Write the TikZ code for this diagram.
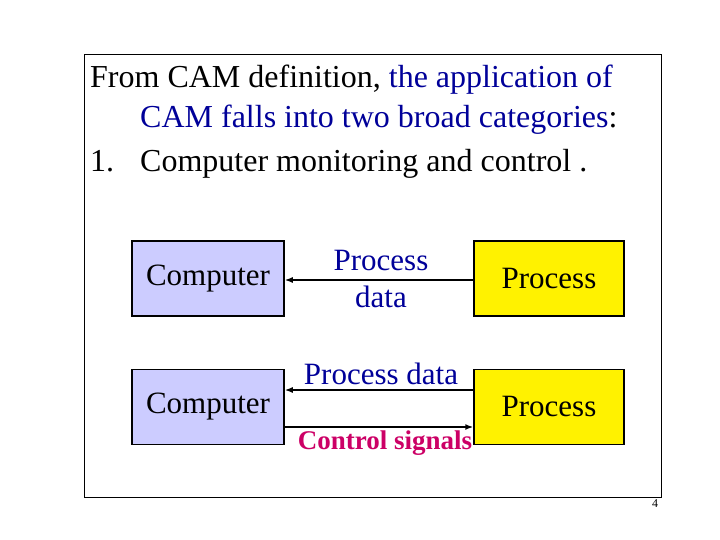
\documentclass[tikz,border=0pt]{standalone}
\usepackage{fontspec}
\setmainfont{Liberation Serif}
\definecolor{boxblue}{RGB}{204,204,255}
\definecolor{txtblue}{RGB}{0,0,153}
\definecolor{ctrlred}{RGB}{204,0,102}
\tikzset{
  comp/.style={draw, line width=1.5pt, fill=boxblue, minimum width=152pt, minimum height=75pt, font=\fontsize{31}{34}\selectfont},
  proc/.style={draw, line width=1.5pt, fill=yellow, minimum width=150pt, minimum height=75pt, font=\fontsize{31}{34}\selectfont},
  flow/.style={line width=1.5pt, -{Latex[length=8pt,width=6pt]}},
  lbl/.style={text=txtblue, font=\fontsize{31}{34}\selectfont, align=center},
  head/.style={anchor=base west, inner sep=0, font=\fontsize{32}{36}\selectfont}
}
\usetikzlibrary{arrows.meta}
\begin{document}
\begin{tikzpicture}[x=1pt,y=-1pt]
    \useasboundingbox (0,0) rectangle (720,540);
    \draw[line width=0.6pt] (84,54) rectangle (661,497);

    % heading
    \node[head] (l1) at (90,88) {From CAM definition, \textcolor{txtblue}{the application of}};
    \node[head] (l2) at (140,128) {\textcolor{txtblue}{CAM falls into two broad categories}:};
    \node[head] (n1) at (90,172) {1.};
    \node[head] (l3) at (140,172) {Computer monitoring and control .};

    % monitoring
    \node[comp] (compA) at (208,278.5) {Computer};
    \node[proc] (procA) at (549,278.5) {Process};
    \draw[flow] (procA.west |- 0,280) -- (compA.east |- 0,280);
    \node[lbl, font=\fontsize{31}{37}\selectfont] (dataA) at (381,279) {Process\\data};

    % control
    \node[comp] (compB) at (208,407) {Computer};
    \node[proc] (procB) at (549,407) {Process};
    \draw[flow] (procB.west |- 0,390) -- (compB.east |- 0,390);
    \draw[flow] (compB.east |- 0,427) -- (procB.west |- 0,427);
    \node[lbl] (dataB) at (381,374) {Process data};
    \node[text=ctrlred, font=\fontsize{27}{30}\selectfont\bfseries] (ctrl) at (385,443) {Control signals};

    \node[font=\fontsize{12}{14}\selectfont] (page) at (655,504) {4};
\end{tikzpicture}
\end{document}
